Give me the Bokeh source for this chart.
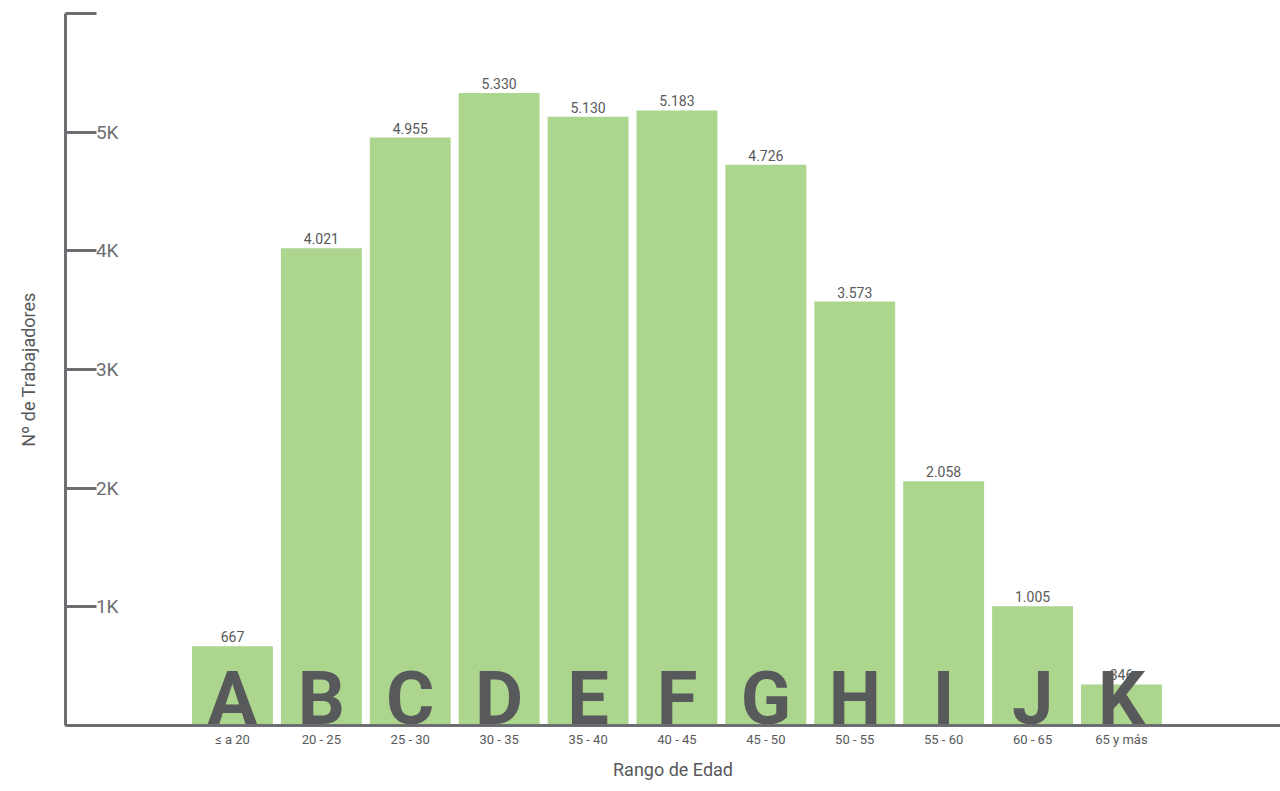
from bokeh.plotting import figure
from bokeh.models import Range1d, FixedTicker, ColumnDataSource, LabelSet, Title
from bokeh.core.properties import value
from bokeh.embed import file_html
from bokeh.resources import INLINE

letters = ["A", "B", "C", "D", "E", "F", "G", "H", "I", "J", "K"]
age_ranges = ["≤ a 20", "20 - 25", "25 - 30", "30 - 35", "35 - 40", "40 - 45",
              "45 - 50", "50 - 55", "55 - 60", "60 - 65", "65 y más"]
workers = [667, 4021, 4955, 5330, 5130, 5183, 4726, 3573, 2058, 1005, 346]
value_labels = ["667", "4.021", "4.955", "5.330", "5.130", "5.183", "4.726",
                "3.573", "2.058", "1.005", "346"]
y_ticks = [0, 1000, 2000, 3000, 4000, 5000, 6000]
y_tick_labels = ["", "1K", "2K", "3K", "4K", "5K", ""]

FONT = "Roboto"
AXIS = "#6d6e71"
TEXT = "#58595b"
BAR = "#acd58e"

xs = list(range(len(letters)))
src = ColumnDataSource(dict(x=xs, top=workers, letter=letters, lab=value_labels))

p = figure(width=1280, height=791, output_backend="svg", toolbar_location=None,
           x_range=Range1d(-1.878, 11.789), y_range=Range1d(0, 6000),
           min_border_left=65, min_border_right=0, min_border_top=13, min_border_bottom=66)

p.vbar(x="x", top="top", width=0.91, source=src, fill_color=BAR, line_color=None)

p.text(x="x", y=0, text="letter", source=src, text_align="center", text_baseline="bottom",
       y_offset=16, text_font=value(FONT), text_font_style="bold", text_font_size="74px",
       text_color=TEXT)

p.add_layout(LabelSet(x="x", y="top", text="lab", source=src, text_align="center",
                      text_baseline="bottom", y_offset=4, text_font=value(FONT),
                      text_font_size="14px", text_color=TEXT))

p.grid.visible = False
p.outline_line_color = None

xa = p.xaxis[0]
xa.ticker = FixedTicker(ticks=xs)
xa.major_label_overrides = {i: s for i, s in zip(xs, age_ranges)}
xa.major_tick_line_color = None
xa.minor_tick_line_color = None
xa.axis_line_color = AXIS
xa.axis_line_width = 3
xa.major_label_standoff = 0
xa.major_label_text_font = FONT
xa.major_label_text_font_size = "13px"
xa.major_label_text_color = TEXT

p.add_layout(Title(text="Rango de Edad", align="center", offset=29, standoff=14,
                   text_font=FONT, text_font_style="normal", text_font_size="18px",
                   text_color=TEXT), "below")

ya = p.yaxis[0]
ya.ticker = FixedTicker(ticks=y_ticks)
ya.major_label_overrides = {t: s for t, s in zip(y_ticks, y_tick_labels)}
ya.major_tick_in = 31
ya.major_tick_out = 0
ya.major_tick_line_color = AXIS
ya.major_tick_line_width = 3
ya.minor_tick_line_color = None
ya.axis_line_color = AXIS
ya.axis_line_width = 3
ya.major_label_standoff = -53
ya.major_label_text_font = FONT
ya.major_label_text_font_size = "19px"
ya.major_label_text_color = AXIS
ya.axis_label = "Nº de Trabajadores"
ya.axis_label_standoff = 54
ya.axis_label_text_font = FONT
ya.axis_label_text_font_style = "normal"
ya.axis_label_text_font_size = "18px"
ya.axis_label_text_color = TEXT

open("out.html", "w").write(file_html(p, INLINE))
